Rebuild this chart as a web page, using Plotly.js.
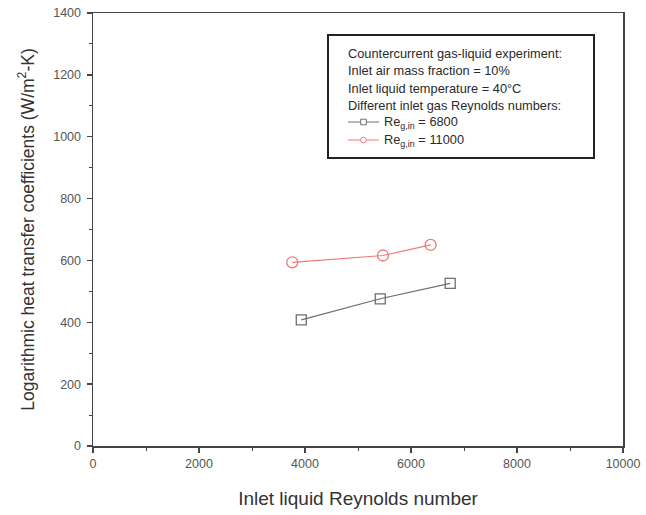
<!DOCTYPE html>
<html>
<head>
<meta charset="utf-8">
<script src="https://cdn.plot.ly/plotly-3.0.1.min.js"></script>
<style>
  html, body { margin: 0; padding: 0; background: #fff; }
  #chart { width: 646px; height: 515px; }
</style>
</head>
<body>
<div id="chart"></div>
<script>
// Inlet liquid Reynolds number vs. logarithmic heat transfer coefficient
const reLiquidLow = [3930, 5420, 6740];
const hLow = [408, 476, 526];
const reLiquidHigh = [3760, 5470, 6370];
const hHigh = [594, 616, 650];

const seriesNames = ['Re<sub>g,in</sub> = 6800', 'Re<sub>g,in</sub> = 11000'];
const seriesColors = ['#6e6e6e', '#f07878'];
const infoLines = [
  'Countercurrent gas-liquid experiment:',
  'Inlet air mass fraction = 10%',
  'Inlet liquid temperature = 40\u00B0C',
  'Different inlet gas Reynolds numbers:'
];
const xTicks = [0, 2000, 4000, 6000, 8000, 10000];
const yTicks = [0, 200, 400, 600, 800, 1000, 1200, 1400];

const FONT = 'Liberation Sans, Arial, sans-serif';
const W = 646, H = 515;
const M = { l: 93, r: 23, t: 13, b: 69 };
const PW = W - M.l - M.r, PH = H - M.t - M.b;
// page pixel -> paper fraction
const px = X => (X - M.l) / PW;
const py = Y => (H - M.b - Y) / PH;

const traces = [
  {
    x: reLiquidLow, y: hLow, name: seriesNames[0],
    mode: 'lines+markers', type: 'scatter',
    line: { color: seriesColors[0], width: 1.2 },
    marker: { symbol: 'square-open', size: 10, color: seriesColors[0], line: { width: 1.3 } }
  },
  {
    x: reLiquidHigh, y: hHigh, name: seriesNames[1],
    mode: 'lines+markers', type: 'scatter',
    line: { color: seriesColors[1], width: 1.2 },
    marker: { symbol: 'circle-open', size: 11, color: seriesColors[1], line: { width: 1.3 } }
  }
];

// legend box with the experiment description and the two series keys
const shapes = [{
  type: 'rect', xref: 'paper', yref: 'paper',
  x0: px(328), x1: px(594), y0: py(158), y1: py(35),
  line: { color: '#222', width: 2 }, fillcolor: 'rgba(0,0,0,0)'
}];
const annotations = infoLines.map((t, i) => ({
  text: t, xref: 'paper', yref: 'paper', showarrow: false,
  x: px(346), y: py(53 + i * 17.6), xanchor: 'left', yanchor: 'middle',
  font: { family: FONT, size: 12.8, color: '#2a2a2a' }
}));
const keyY = [122, 140];
seriesNames.forEach((name, i) => {
  const yk = py(keyY[i]);
  shapes.push({
    type: 'line', xref: 'paper', yref: 'paper',
    x0: px(348), x1: px(379), y0: yk, y1: yk,
    line: { color: seriesColors[i], width: 1 }
  });
  shapes.push({
    type: i === 0 ? 'rect' : 'circle', xref: 'paper', yref: 'paper',
    xsizemode: 'pixel', ysizemode: 'pixel', xanchor: px(363.5), yanchor: yk,
    x0: -2.8, x1: 2.8, y0: -2.8, y1: 2.8,
    line: { color: seriesColors[i], width: 1 }, fillcolor: '#fff'
  });
  annotations.push({
    text: name, xref: 'paper', yref: 'paper', showarrow: false,
    x: px(382), y: yk, xanchor: 'left', yanchor: 'middle',
    font: { family: FONT, size: 12.8, color: '#2a2a2a' }
  });
});

const layout = {
  width: W, height: H,
  margin: M,
  paper_bgcolor: '#fff', plot_bgcolor: '#fff',
  font: { family: FONT, color: '#333' },
  showlegend: false,
  xaxis: {
    range: [0, 10000], tickvals: xTicks, ticktext: xTicks.map(String),
    showgrid: false, zeroline: false,
    showline: true, linecolor: '#444', linewidth: 1.5, mirror: true,
    ticks: 'outside', ticklen: 5, tickwidth: 1.3, tickcolor: '#444',
    minor: { dtick: 1000, ticks: 'outside', ticklen: 3, tickwidth: 1, tickcolor: '#444' },
    tickfont: { family: FONT, size: 12.5, color: '#555555' },
    title: { text: 'Inlet liquid Reynolds number', font: { family: FONT, size: 19, color: '#333' }, standoff: 22 }
  },
  yaxis: {
    range: [0, 1400], tickvals: yTicks, ticktext: yTicks.map(String),
    showgrid: false, zeroline: false,
    showline: true, linecolor: '#444', linewidth: 1.5, mirror: true,
    ticks: 'outside', ticklen: 5, tickwidth: 1.3, tickcolor: '#444',
    minor: { dtick: 100, ticks: 'outside', ticklen: 3, tickwidth: 1, tickcolor: '#444' },
    tickfont: { family: FONT, size: 12.5, color: '#555555' },
    ticklabelstandoff: 3,
    title: { text: 'Logarithmic heat transfer coefficients (W/m<sup>2</sup>-K)', font: { family: FONT, size: 17.5, color: '#333' }, standoff: 14 }
  },
  shapes: shapes,
  annotations: annotations
};

Plotly.newPlot('chart', traces, layout, { displayModeBar: false, staticPlot: true });
</script>
</body>
</html>
